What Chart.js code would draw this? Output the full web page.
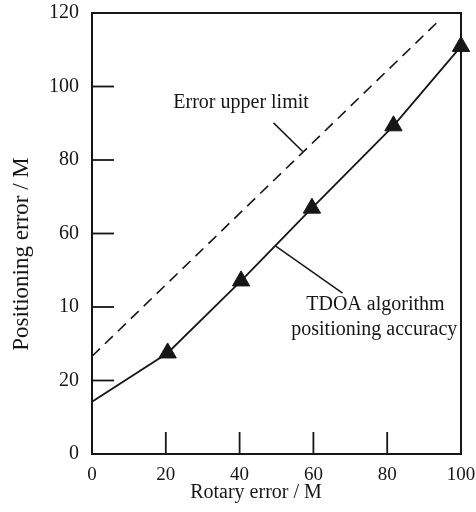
<!DOCTYPE html>
<html>
<head>
<meta charset="utf-8">
<script src="https://cdn.jsdelivr.net/npm/chart.js@4"></script>
<style>
  html, body { margin: 0; padding: 0; background: #ffffff; }
  #wrap { width: 476px; height: 512px; }
</style>
</head>
<body>
<div id="wrap"><canvas id="c" width="476" height="512"></canvas></div>
<script>
// ---- data ----
const xTickValues = [0, 20, 40, 60, 80, 100];
const xTickLabels = ['0', '20', '40', '60', '80', '100'];
const yTickValues = [0, 20, 40, 60, 80, 100, 120];
const yTickLabels = ['0', '20', '10', '60', '80', '100', '120'];

const tdoaX = [0, 20.5, 40.4, 59.6, 81.7, 100];
const tdoaY = [14.2, 27.5, 47.1, 66.9, 89.3, 110.9];

const upperX = [0, 94.1];
const upperY = [26.6, 118];

const xTitle = 'Rotary error / M';
const yTitle = 'Positioning error / M';
const upperLabel = 'Error upper limit';
const tdoaLabel = ['TDOA algorithm', 'positioning accuracy'];

const ink = '#161616';
const serif = "'Liberation Serif', 'DejaVu Serif', serif";

const toPts = (xs, ys) => xs.map((x, i) => ({ x: x, y: ys[i] }));

const decor = {
  id: 'decor',
  beforeDatasetsDraw(chart) {
    const { ctx, chartArea: a, scales: { x, y } } = chart;
    ctx.save();
    ctx.strokeStyle = ink;
    ctx.lineWidth = 2;
    ctx.strokeRect(a.left, a.top, a.right - a.left, a.bottom - a.top);
    ctx.lineWidth = 1.8;
    const len = 22;
    x.ticks.forEach(t => {
      if (t.value <= x.min || t.value >= x.max) return;
      const px = x.getPixelForValue(t.value);
      ctx.beginPath(); ctx.moveTo(px, a.bottom); ctx.lineTo(px, a.bottom - len); ctx.stroke();
    });
    y.ticks.forEach(t => {
      if (t.value <= y.min || t.value >= y.max) return;
      const py = y.getPixelForValue(t.value);
      ctx.beginPath(); ctx.moveTo(a.left, py); ctx.lineTo(a.left + len, py); ctx.stroke();
    });
    ctx.restore();
  },
  afterDraw(chart, args, opts) {
    const { ctx, chartArea: a, scales: { x, y } } = chart;
    ctx.save();
    ctx.fillStyle = ink;
    ctx.strokeStyle = ink;
    ctx.lineWidth = 1.5;
    // leader lines
    opts.leaders.forEach(l => {
      ctx.beginPath();
      ctx.moveTo(x.getPixelForValue(l.x1), y.getPixelForValue(l.y1));
      ctx.lineTo(x.getPixelForValue(l.x2), y.getPixelForValue(l.y2));
      ctx.stroke();
    });
    // annotation texts
    ctx.font = '20px ' + serif;
    ctx.textAlign = 'center';
    ctx.textBaseline = 'middle';
    opts.texts.forEach(t => {
      ctx.fillText(t.text, x.getPixelForValue(t.x), y.getPixelForValue(t.y));
    });
    // axis titles
    ctx.font = '20px ' + serif;
    ctx.fillText(xTitle, a.left + 164, a.bottom + 39);
    ctx.translate(22, a.top + 241);
    ctx.rotate(-Math.PI / 2);
    ctx.font = '23px ' + serif;
    ctx.fillText(yTitle, 0, 0);
    ctx.restore();
  }
};

new Chart(document.getElementById('c'), {
  type: 'scatter',
  data: {
    datasets: [
      {
        label: upperLabel,
        data: toPts(upperX, upperY),
        showLine: true,
        borderColor: ink,
        borderWidth: 1.6,
        borderDash: [11, 7],
        pointRadius: 0,
        fill: false
      },
      {
        label: tdoaLabel.join(' '),
        data: toPts(tdoaX, tdoaY),
        showLine: true,
        borderColor: ink,
        borderWidth: 1.8,
        pointStyle: 'triangle',
        pointRadius: c => (c.dataIndex === 0 ? 0 : 10),
        pointBackgroundColor: ink,
        pointBorderColor: ink,
        pointBorderWidth: 1,
        clip: false,
        fill: false
      }
    ]
  },
  options: {
    responsive: false,
    animation: false,
    events: [],
    layout: { padding: { left: 0, top: 13, right: 15, bottom: 0 } },
    plugins: {
      legend: { display: false },
      tooltip: { enabled: false },
      decor: {
        leaders: [
          { x1: 49.2, y1: 90.1, x2: 57.1, y2: 82.3 },
          { x1: 49.6, y1: 56.7, x2: 67.9, y2: 43.8 }
        ],
        texts: [
          { text: upperLabel, x: 40.4, y: 95.6 },
          { text: tdoaLabel[0], x: 76.8, y: 40.6 },
          { text: tdoaLabel[1], x: 76.5, y: 33.9 }
        ]
      }
    },
    scales: {
      x: {
        type: 'linear',
        min: 0,
        max: 100,
        grid: { display: false, drawTicks: false },
        border: { display: false },
        afterBuildTicks: s => { s.ticks = xTickValues.map(v => ({ value: v })); },
        afterFit: s => { s.height = 58; s.paddingLeft = 0; s.paddingRight = 0; },
        ticks: {
          padding: 10,
          color: ink,
          font: { family: serif, size: 19 },
          maxRotation: 0,
          autoSkip: false,
          callback: v => xTickLabels[xTickValues.indexOf(v)]
        }
      },
      y: {
        type: 'linear',
        min: 0,
        max: 120,
        grid: { display: false, drawTicks: false },
        border: { display: false },
        afterBuildTicks: s => { s.ticks = yTickValues.map(v => ({ value: v })); },
        afterFit: s => { s.width = 92; s.paddingTop = 0; s.paddingBottom = 0; },
        ticks: {
          padding: 13,
          color: ink,
          font: { family: serif, size: 20 },
          autoSkip: false,
          callback: v => yTickLabels[yTickValues.indexOf(v)]
        }
      }
    }
  },
  plugins: [decor]
});
</script>
</body>
</html>
